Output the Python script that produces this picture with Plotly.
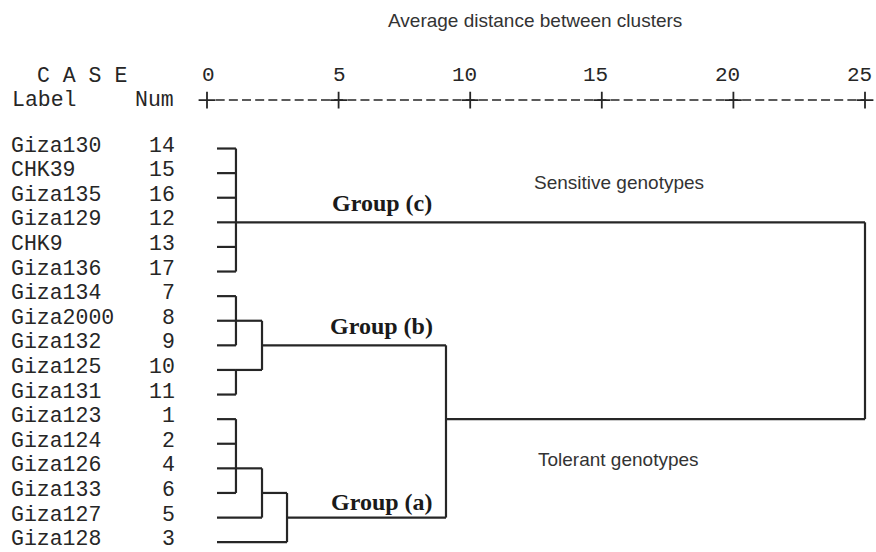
import plotly.graph_objects as go

# Cases in dendrogram order (top to bottom) and their case numbers
cases = ["Giza130", "CHK39", "Giza135", "Giza129", "CHK9", "Giza136",
         "Giza134", "Giza2000", "Giza132", "Giza125", "Giza131",
         "Giza123", "Giza124", "Giza126", "Giza133", "Giza127", "Giza128"]
case_nums = [14, 15, 16, 12, 13, 17, 7, 8, 9, 10, 11, 1, 2, 4, 6, 5, 3]

# Agglomeration steps: members (row index or earlier join), rescaled distance, connector row
join_names = ["C", "B1", "B2", "B", "A1", "A2", "A", "AB", "ALL"]
join_members = [[0, 1, 2, 3, 4, 5], [6, 7, 8], [9, 10], ["B1", "B2"],
                [11, 12, 13, 14], ["A1", 15], ["A2", 16], ["B", "A"], ["C", "AB"]]
join_heights = [1.1, 1.1, 1.1, 2.09, 1.1, 2.09, 3.04, 9.08, 25.0]
join_rows = [3, 7, 9, 8, 13, 14, 15, 11, None]

# Distance scale
scale_ticks = [0, 5, 10, 15, 20, 25]

# Group captions
group_labels = ["Group (c)", "Group (b)", "Group (a)"]
side_labels = ["Sensitive genotypes", "Tolerant genotypes"]

MONO = "Liberation Mono, Courier New, monospace"
SANS = "Liberation Sans, Arial, sans-serif"
SERIF = "Liberation Serif, Times New Roman, serif"
INK = "#262626"
LEAF_START = 0.38

# Build the bracket segments
node_pos = {}
for i in range(len(cases)):
    node_pos[i] = (LEAF_START, i)

xs, ys = [], []
for name, members, h, row in zip(join_names, join_members, join_heights, join_rows):
    rows = []
    for m in members:
        mx, my = node_pos[m]
        xs += [mx, h, None]
        ys += [my, my, None]
        rows.append(my)
    xs += [h, h, None]
    ys += [min(rows), max(rows), None]
    node_pos[name] = (h, row)

fig = go.Figure()
fig.add_trace(go.Scatter(x=xs, y=ys, mode="lines",
                         line=dict(color=INK, width=2.2),
                         hoverinfo="skip", showlegend=False))

# Text-style distance ruler: "+---------+---------+ ..."
char_w = 5.0 / 10  # ten character cells per five units
fig.add_trace(go.Scatter(x=[char_w - 0.17, scale_ticks[-1]], y=[-1.97, -1.97], mode="lines",
                         line=dict(color=INK, width=1.6, dash="9px,4.16px"),
                         hoverinfo="skip", showlegend=False))
fig.add_trace(go.Scatter(x=scale_ticks, y=[-1.97] * len(scale_ticks), mode="markers",
                         marker=dict(symbol="cross-thin", size=12,
                                     line=dict(color=INK, width=1.8)),
                         hoverinfo="skip", showlegend=False))

ann = []
for t in scale_ticks:
    ann.append(dict(x=t, y=-2.95, text=str(t), showarrow=False,
                    xanchor="center", xshift=-6 if t >= 10 else 1,
                    font=dict(family=MONO, size=21, color=INK)))

row_font = dict(family=MONO, size=21.5, color=INK)
for i, (lab, num) in enumerate(zip(cases, case_nums)):
    ann.append(dict(x=-7.49, y=i, text=lab, showarrow=False, xanchor="left",
                    yshift=3, borderpad=0, font=row_font))
    ann.append(dict(x=-1.18, y=i, text=str(num), showarrow=False, xanchor="right",
                    yshift=3, borderpad=0, font=row_font))

ann += [
    dict(x=-6.54, y=-2.95, text="C A S E", showarrow=False, xanchor="left", font=row_font),
    dict(x=-7.49, y=-1.97, text="Label", showarrow=False, xanchor="left", font=row_font),
    dict(x=-1.18, y=-1.97, text="Num", showarrow=False, xanchor="right", font=row_font),
    dict(x=12.46, y=-5.22, text="Average distance between clusters", showarrow=False,
         xanchor="center", font=dict(family=SANS, size=19, color="#333333")),
    dict(x=15.65, y=1.4, text=side_labels[0], showarrow=False, xanchor="center",
         font=dict(family=SANS, size=19, color="#333333")),
    dict(x=15.65, y=12.66, text=side_labels[1], showarrow=False, xanchor="center",
         font=dict(family=SANS, size=19, color="#333333")),
]
for lab, gy in zip(group_labels, [2.2, 7.22, 14.37]):
    ann.append(dict(x=6.63, y=gy, text="<b>" + lab + "</b>", showarrow=False,
                    xanchor="center",
                    font=dict(family=SERIF, size=24, color="#1a1a1a")))

fig.update_layout(
    width=876, height=552,
    margin=dict(l=0, r=0, t=0, b=0),
    paper_bgcolor="white", plot_bgcolor="white",
    xaxis=dict(range=[-7.865, 25.418], visible=False, fixedrange=True),
    yaxis=dict(range=[16.40, -6.037], visible=False, fixedrange=True),
    annotations=ann,
)

fig.write_html("out.html")
